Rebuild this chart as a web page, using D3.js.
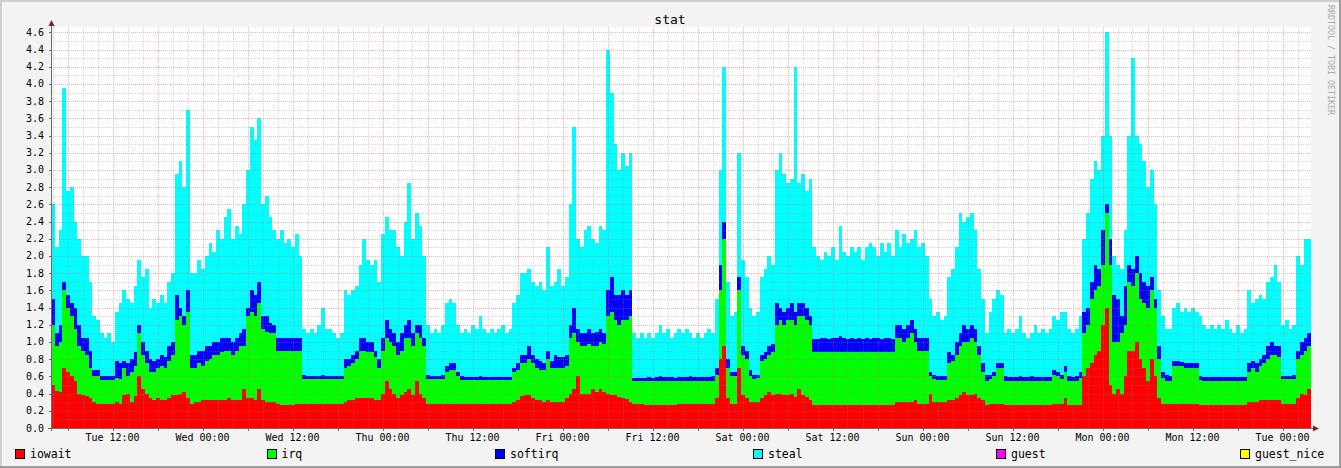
<!DOCTYPE html>
<html><head><meta charset="utf-8">
<script src="https://cdn.jsdelivr.net/npm/d3@7"></script>
<style>body{margin:0;background:#f3f3f3}svg{display:block}</style>
</head><body><svg id="chart" width="1341" height="468"></svg>
<script>
// ---- data (one sample per 30 min) ----
const startTime = new Date(2024, 0, 2, 3, 48); // Tue 03:48
const stepMinutes = 30;
const iowait = [
.5,.43,.42,.7,.65,.6,.55,.4,.38,.37,
.35,.3,.28,.28,.28,.28,.28,.3,.28,.38,
.4,.3,.37,.6,.45,.4,.35,.33,.35,.33,
.33,.35,.38,.38,.4,.42,.35,.28,.3,.3,
.32,.33,.32,.33,.32,.33,.33,.35,.33,.32,
.33,.45,.35,.35,.33,.45,.32,.3,.3,.3,
.28,.27,.27,.27,.27,.28,.28,.28,.28,.28,
.28,.28,.28,.28,.28,.28,.28,.28,.3,.32,
.33,.35,.35,.35,.35,.35,.33,.32,.4,.55,
.45,.4,.35,.38,.42,.45,.38,.55,.4,.35,
.28,.28,.28,.28,.28,.28,.28,.28,.28,.28,
.28,.28,.28,.28,.28,.28,.28,.28,.28,.28,
.28,.28,.28,.3,.32,.37,.38,.38,.35,.33,
.32,.3,.32,.3,.3,.3,.3,.35,.4,.45,
.6,.4,.4,.4,.45,.42,.45,.42,.4,.38,
.38,.36,.35,.34,.3,.28,.28,.28,.27,.27,
.27,.27,.27,.27,.27,.27,.27,.28,.28,.28,
.28,.28,.28,.28,.28,.28,.28,.35,.8,.95,
.35,.28,.28,.7,.38,.35,.3,.3,.3,.35,
.38,.42,.38,.4,.4,.38,.38,.4,.36,.45,
.38,.36,.33,.27,.27,.27,.27,.27,.27,.27,
.27,.27,.27,.27,.27,.27,.27,.27,.27,.27,
.27,.27,.27,.27,.27,.3,.3,.3,.3,.3,
.32,.28,.28,.28,.4,.3,.3,.3,.3,.33,
.33,.35,.38,.42,.38,.38,.4,.35,.32,.27,
.28,.28,.28,.28,.27,.27,.27,.27,.27,.27,
.27,.27,.27,.27,.27,.27,.27,.28,.28,.28,
.35,.27,.27,.27,.27,.6,.7,.75,.85,.9,
1.2,1.4,.5,.4,.45,.4,.6,.9,.9,1.0,
.8,.7,.55,.8,.6,.35,.28,.28,.28,.28,
.28,.28,.28,.28,.28,.28,.27,.27,.27,.27,
.27,.27,.27,.27,.27,.27,.27,.27,.27,.3,
.3,.3,.33,.33,.33,.33,.33,.32,.28,.28,
.28,.28,.35,.4,.38,.45];
const irq = [
.7,.52,.58,.9,.75,.7,.6,.55,.52,.48,
.35,.3,.32,.28,.28,.28,.28,.28,.29,.32,
.2,.35,.35,.5,.4,.35,.3,.32,.35,.39,
.37,.43,.47,.87,.9,.78,1.0,.42,.4,.45,
.4,.45,.48,.52,.53,.55,.57,.55,.52,.58,
.62,.5,.95,1.0,.97,1.0,.83,.82,.8,.8,
.62,.63,.63,.63,.63,.62,.62,.29,.29,.29,
.29,.29,.29,.29,.29,.29,.29,.29,.4,.4,
.42,.45,.55,.55,.53,.53,.49,.38,.5,.5,
.55,.55,.5,.52,.63,.6,.57,.55,.65,.6,
.29,.29,.29,.29,.29,.37,.4,.39,.32,.28,
.28,.28,.28,.28,.28,.28,.28,.28,.28,.28,
.28,.28,.28,.35,.36,.38,.37,.42,.4,.37,
.36,.38,.48,.4,.4,.4,.4,.37,.65,.65,
.4,.55,.55,.58,.5,.53,.55,.56,.9,.97,
.87,.84,.9,.91,1.0,.27,.27,.27,.28,.28,
.28,.28,.28,.28,.28,.28,.28,.27,.27,.27,
.27,.27,.27,.27,.27,.27,.27,.27,.8,1.25,
.35,.32,.32,.9,.47,.45,.3,.27,.28,.43,
.42,.43,.5,.8,.85,.82,.87,.85,.84,.85,
.92,.89,.87,.61,.61,.61,.61,.61,.61,.61,
.61,.61,.61,.61,.61,.61,.61,.61,.61,.61,
.61,.61,.61,.61,.61,.75,.75,.7,.75,.8,
.68,.62,.62,.62,.2,.27,.26,.26,.26,.42,
.45,.5,.57,.58,.62,.67,.6,.5,.33,.28,
.29,.32,.42,.42,.28,.28,.28,.28,.28,.28,
.28,.28,.28,.28,.28,.28,.28,.34,.32,.29,
.3,.28,.28,.28,.31,.5,.5,.75,.75,.75,
.7,1.1,1.4,.6,.55,.7,.6,.8,.75,.8,
.7,.75,.85,.8,.8,.45,.3,.27,.27,.44,
.44,.44,.42,.42,.42,.42,.29,.28,.28,.28,
.28,.28,.28,.28,.28,.28,.28,.28,.28,.35,
.4,.35,.39,.42,.47,.52,.52,.5,.29,.29,
.29,.29,.45,.45,.52,.5];
const softirq = [
.3,.15,.2,.1,.15,.15,.25,.25,.15,.2,
.2,.07,.07,.04,.04,.04,.04,.2,.19,.08,
.16,.15,.16,.1,.15,.15,.15,.13,.1,.13,
.12,.17,.15,.3,.1,.1,.25,.15,.15,.15,
.18,.17,.15,.15,.15,.17,.15,.15,.15,.15,
.15,.2,.1,.25,.25,.25,.15,.18,.12,.1,
.15,.15,.15,.15,.15,.15,.15,.05,.03,.03,
.03,.03,.05,.03,.03,.03,.03,.03,.1,.08,
.1,.1,.15,.15,.12,.12,.08,.1,.15,.2,
.15,.15,.15,.2,.15,.2,.15,.1,.15,.1,
.05,.03,.03,.03,.05,.07,.07,.08,.05,.04,
.03,.03,.03,.03,.04,.03,.03,.03,.03,.03,
.03,.03,.03,.05,.07,.1,.1,.15,.1,.1,
.1,.07,.1,.08,.15,.13,.12,.13,.15,.3,
.15,.15,.15,.17,.15,.17,.15,.12,.3,.4,
.3,.35,.35,.3,.3,.03,.03,.03,.03,.04,
.03,.04,.05,.04,.04,.04,.03,.04,.04,.04,
.05,.04,.04,.04,.04,.04,.05,.08,.3,.2,
.1,.05,.05,.15,.1,.1,.08,.05,.04,.07,
.08,.1,.1,.25,.15,.15,.15,.2,.15,.15,
.15,.15,.1,.15,.15,.17,.17,.16,.17,.17,
.19,.17,.16,.17,.16,.17,.16,.17,.16,.17,
.17,.16,.17,.17,.16,.15,.15,.15,.15,.15,
.15,.15,.15,.15,.05,.05,.04,.04,.04,.13,
.07,.15,.15,.2,.15,.15,.15,.1,.1,.07,
.05,.05,.06,.06,.05,.04,.04,.04,.05,.04,
.04,.05,.04,.04,.04,.04,.04,.06,.05,.05,
.07,.05,.04,.05,.07,.25,.2,.2,.3,.2,
.4,.1,.3,.55,.5,.2,.45,.2,.2,.2,
.3,.25,.25,.15,.1,.15,.07,.07,.05,.06,
.06,.05,.06,.06,.06,.06,.04,.04,.04,.04,
.04,.04,.04,.04,.04,.04,.04,.04,.04,.1,
.08,.1,.08,.1,.15,.15,.1,.13,.03,.03,
.03,.05,.1,.15,.15,.15];
const steal = [
1.1,1.0,1.1,2.25,1.2,1.35,1.0,1.0,.95,.95,
.8,.63,.58,.5,.45,.5,.4,.57,.69,.82,
.74,.65,.77,.75,.75,.95,.6,.72,.65,.7,
.63,.75,.8,1.4,1.7,1.5,2.1,.95,.95,1.05,
.95,1.05,1.2,1.05,1.3,1.15,1.4,1.5,1.2,1.3,
1.15,1.45,1.6,1.9,1.8,1.9,1.3,1.4,1.23,1.1,
1.15,1.25,1.1,1.15,1.05,1.2,.95,.53,.5,.55,
.5,.6,.78,.55,.55,.5,.45,.5,.8,.75,
.75,.75,.85,1.15,.95,.9,1.05,.9,1.2,1.2,
1.15,1.2,1.1,.9,1.2,1.6,1.1,1.3,1.15,.95,
.58,.5,.55,.5,.58,.73,.75,.7,.55,.5,
.56,.51,.61,.56,.7,.56,.51,.56,.51,.56,
.61,.51,.56,.75,.8,.95,.95,.9,.85,.85,
.92,.85,1.2,.87,.85,1.02,.83,.9,1.4,2.1,
1.05,1.0,1.2,1.2,1.1,1.03,1.2,1.2,2.8,2.15,
1.75,1.45,1.6,1.5,1.6,.52,.47,.52,.47,.51,
.47,.51,.6,.51,.56,.46,.52,.56,.51,.56,
.5,.46,.51,.46,.51,.56,.5,.8,1.1,1.8,
.9,.65,.7,1.45,1.0,.85,.72,.68,.73,.9,
.97,1.05,.92,1.55,1.8,1.6,1.45,1.45,2.85,1.4,
1.5,1.35,1.6,1.07,.97,.9,1.0,.96,1.05,.9,
1.28,1.0,.96,1.05,1.01,1.05,.91,1.05,1.11,1.05,
.95,1.11,1.0,1.1,.96,1.1,.9,1.1,.95,.95,
1.15,1.05,1.1,.95,.85,.68,.75,.65,.7,.87,
1.0,1.1,1.4,1.2,1.3,1.3,1.15,.9,.75,.48,
.73,.85,.84,.79,.5,.56,.51,.56,.7,.51,
.46,.5,.61,.51,.56,.51,.56,.62,.6,.73,
.63,.55,.51,.55,.65,.85,1.1,1.2,1.2,1.15,
1.1,2.0,1.2,.45,.4,.55,.65,1.5,2.45,1.4,
1.5,1.4,1.15,1.25,1.1,.65,.65,.53,.55,.62,
.67,.58,.64,.59,.64,.59,.7,.61,.56,.61,
.56,.61,.56,.66,.56,.51,.61,.51,.56,.85,
.67,.75,.75,.65,.75,.75,.95,.75,.6,.65,
.55,.58,1.1,.9,1.15,1.1];
const seriesNames = ["iowait", "irq", "softirq", "steal", "guest", "guest_nice"];
const seriesColors = ["#ff0000", "#00ff00", "#0000ff", "#00ffff", "#ff00ff", "#ffff00"];
const yTickValues = [0,0.2,0.4,0.6,0.8,1.0,1.2,1.4,1.6,1.8,2.0,2.2,2.4,2.6,2.8,3.0,3.2,3.4,3.6,3.8,4.0,4.2,4.4,4.6];
const xTickLabels = ["Tue 12:00","Wed 00:00","Wed 12:00","Thu 00:00","Thu 12:00","Fri 00:00","Fri 12:00","Sat 00:00","Sat 12:00","Sun 00:00","Sun 12:00","Mon 00:00","Mon 12:00","Tue 00:00"];
const title = "stat";

// ---- layout ----
const W = 1341, H = 468;
const L = 51, R = 1311, T = 27, B = 428;
const FONT = "'DejaVu Sans Mono', monospace";
const svg = d3.select("#chart");

const n = iowait.length;
const times = d3.range(n + 1).map(i => d3.timeMinute.offset(startTime, i * stepMinutes));
const rows = times.map((t, i) => {
  const j = Math.min(i, n - 1);
  return {t, iowait: iowait[j], irq: irq[j], softirq: softirq[j], steal: steal[j]};
});

const x = d3.scaleTime().domain([times[0], times[n]]).range([L, R]);
const y = d3.scaleLinear().domain([0, 4.6]).range([B, 32.3]);

// background & frame
svg.append("rect").attr("width", W).attr("height", H).attr("fill", "#f3f3f3");
svg.append("rect").attr("x", 0).attr("y", 0).attr("width", W).attr("height", 2).attr("fill", "#cfcfcf");
svg.append("rect").attr("x", 0).attr("y", 0).attr("width", 2).attr("height", H).attr("fill", "#cfcfcf");
svg.append("rect").attr("x", 0).attr("y", H - 2).attr("width", W).attr("height", 2).attr("fill", "#9e9e9e");
svg.append("rect").attr("x", W - 2).attr("y", 0).attr("width", 2).attr("height", H).attr("fill", "#9e9e9e");

// canvas
svg.append("rect").attr("x", L).attr("y", T).attr("width", R - L).attr("height", B - T).attr("fill", "#ffffff");

// stacked areas
const keys = ["iowait", "irq", "softirq", "steal"];
const stack = d3.stack().keys(keys)(rows);
const area = d3.area().curve(d3.curveStepAfter)
  .x(d => x(d.data.t)).y0(d => y(d[0])).y1(d => y(d[1]));
svg.append("g").selectAll("path").data(stack).join("path")
  .attr("d", area)
  .attr("fill", d => seriesColors[seriesNames.indexOf(d.key)])
  .attr("shape-rendering", "crispEdges");

// grid (drawn over the data, translucent)
const grid = svg.append("g").attr("shape-rendering", "crispEdges").attr("stroke-dasharray", "1,1").attr("stroke-width", 1);
const minorY = d3.range(1, 47).filter(k => k % 2 === 1).map(k => k / 10);
const majorY = yTickValues.filter(v => v > 0);
const hours2 = d3.timeHour.every(2).range(times[0], times[n]);
const minorX = hours2.filter(t => t.getHours() % 6 !== 0);
const majorX = hours2.filter(t => t.getHours() % 6 === 0);
const minorColor = "rgba(140,140,140,0.35)";
const majorColor = "rgba(225,90,90,0.45)";
grid.selectAll(".mny").data(minorY).join("line")
  .attr("x1", L).attr("x2", R).attr("y1", d => Math.round(y(d)) + 0.5).attr("y2", d => Math.round(y(d)) + 0.5)
  .attr("stroke", minorColor);
grid.selectAll(".mnx").data(minorX).join("line")
  .attr("y1", T).attr("y2", B).attr("x1", d => Math.round(x(d)) + 0.5).attr("x2", d => Math.round(x(d)) + 0.5)
  .attr("stroke", minorColor);
grid.selectAll(".mjy").data(majorY).join("line")
  .attr("x1", L).attr("x2", R).attr("y1", d => Math.round(y(d)) + 0.5).attr("y2", d => Math.round(y(d)) + 0.5)
  .attr("stroke", majorColor);
grid.selectAll(".mjx").data(majorX).join("line")
  .attr("y1", T).attr("y2", B).attr("x1", d => Math.round(x(d)) + 0.5).attr("x2", d => Math.round(x(d)) + 0.5)
  .attr("stroke", majorColor);

// axes
const axisColor = "#6a6a6a";
const ax = svg.append("g").attr("shape-rendering", "crispEdges");
ax.append("line").attr("x1", L + 0.5).attr("x2", L + 0.5).attr("y1", 24).attr("y2", B + 3).attr("stroke", axisColor);
ax.append("line").attr("x1", L - 3).attr("x2", R + 3).attr("y1", B + 0.5).attr("y2", B + 0.5).attr("stroke", axisColor);
ax.selectAll(".ty").data(yTickValues).join("line")
  .attr("x1", L - 2).attr("x2", L).attr("y1", d => Math.round(y(d)) + 0.5).attr("y2", d => Math.round(y(d)) + 0.5)
  .attr("stroke", axisColor);
ax.selectAll(".tx").data(majorX).join("line")
  .attr("y1", B).attr("y2", B + 3).attr("x1", d => Math.round(x(d)) + 0.5).attr("x2", d => Math.round(x(d)) + 0.5)
  .attr("stroke", axisColor);
// arrows
svg.append("path").attr("d", `M${L + 0.5},20 L${L - 2.5},26 L${L + 3.5},26 Z`).attr("fill", "#8c1c1c");
svg.append("path").attr("d", `M${R + 8},${B + 0.5} L${R + 2},${B - 2.5} L${R + 2},${B + 3.5} Z`).attr("fill", "#8c1c1c");

// y labels
svg.append("g").selectAll("text").data(yTickValues).join("text")
  .attr("x", 44).attr("y", d => y(d) + 3.5).attr("text-anchor", "end")
  .attr("font-family", FONT).attr("font-size", 10).attr("fill", "#000")
  .text(d => d3.format(".1f")(d));

// x labels
const labelTimes = hours2.filter(t => t.getHours() % 12 === 0);
svg.append("g").selectAll("text").data(labelTimes).join("text")
  .attr("x", d => x(d)).attr("y", 441).attr("text-anchor", "middle")
  .attr("font-family", FONT).attr("font-size", 10).attr("fill", "#000")
  .text((d, i) => xTickLabels[i]);

// title
svg.append("text").attr("x", 670).attr("y", 24).attr("text-anchor", "middle")
  .attr("font-family", FONT).attr("font-size", 13).attr("fill", "#000").text(title);

// watermark
svg.append("text").attr("transform", "translate(1328,5) rotate(90)")
  .attr("font-family", FONT).attr("font-size", 8.3).attr("fill", "#aaaaaa")
  .text("RRDTOOL / TOBI OETIKER");

// legend
const legendX = [15, 266.5, 495, 753, 996, 1240];
const lg = svg.append("g").selectAll("g").data(seriesNames).join("g")
  .attr("transform", (d, i) => `translate(${legendX[i]},449)`);
lg.append("rect").attr("x", 0.5).attr("y", 0.5).attr("width", 9).attr("height", 9)
  .attr("fill", (d, i) => seriesColors[i]).attr("stroke", "#000").attr("shape-rendering", "crispEdges");
lg.append("text").attr("x", 15).attr("y", 9).attr("font-family", FONT).attr("font-size", 11.5)
  .attr("fill", "#000").text(d => d);
</script></body></html>
